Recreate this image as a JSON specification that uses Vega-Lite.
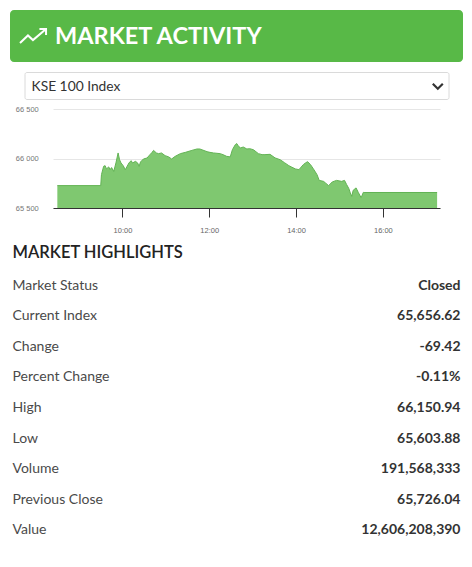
{
  "$schema": "https://vega.github.io/schema/vega-lite/v6.json",
  "background": "white",
  "padding": {"left": 10, "top": 10, "right": 9, "bottom": 11},
  "spacing": 10,
  "center": true,
  "bounds": "flush",
  "config": {"view": {"stroke": null}, "font": "Lato"},
  "vconcat": [
    {
      "width": 453,
      "height": 52,
      "view": {"fill": "#58b947", "stroke": null, "cornerRadius": 4},
      "layer": [
        {
          "data": {"values": [{"label": "MARKET ACTIVITY"}]},
          "mark": {"type": "text", "x": 0, "dx": 45, "dy": 8.3, "align": "left", "baseline": "alphabetic", "font": "Lato", "fontWeight": "bold", "fontSize": 23.5, "color": "white"},
          "encoding": {"text": {"field": "label"}}
        },
        {
          "data": {"values": [{"icon": "trending-up"}]},
          "mark": {"type": "point", "x": 0, "shape": "M0.74,0.52L1.33,-0.04L1.7,0.3L2.67,-0.52M2.18,-0.52L2.67,-0.52L2.67,-0.07", "size": 729, "filled": false, "stroke": "white", "strokeWidth": 2, "opacity": 1},
          "encoding": {}
        }
      ]
    },
    {
      "width": 424,
      "height": 27,
      "view": {"stroke": "#dadada", "strokeWidth": 1, "cornerRadius": 2},
      "layer": [
        {
          "data": {"values": [{"label": "KSE 100 Index"}]},
          "mark": {"type": "text", "x": 0, "dx": 7, "dy": 1, "align": "left", "baseline": "middle", "fontSize": 13.8, "color": "#333333"},
          "encoding": {"text": {"field": "label"}}
        },
        {
          "data": {"values": [{"icon": "chevron"}]},
          "mark": {"type": "point", "x": "width", "shape": "M-3.14,-0.34L-2.14,0.66L-1.14,-0.34", "size": 100, "filled": false, "stroke": "#333333", "strokeWidth": 2.2, "opacity": 1},
          "encoding": {}
        }
      ]
    },
    {
      "width": 407,
      "height": 99,
      "data": {
        "values": [
          {"time": "2024-01-16T08:30:00", "index": 65726.04},
          {"time": "2024-01-16T09:30:00", "index": 65726.04},
          {"time": "2024-01-16T09:31:00", "index": 65837},
          {"time": "2024-01-16T09:34:00", "index": 65921},
          {"time": "2024-01-16T09:36:00", "index": 65928},
          {"time": "2024-01-16T09:38:00", "index": 65895},
          {"time": "2024-01-16T09:41:00", "index": 65915},
          {"time": "2024-01-16T09:43:00", "index": 65888},
          {"time": "2024-01-16T09:45:00", "index": 65908},
          {"time": "2024-01-16T09:48:00", "index": 65870},
          {"time": "2024-01-16T09:51:00", "index": 65955},
          {"time": "2024-01-16T09:54:00", "index": 66056},
          {"time": "2024-01-16T09:56:00", "index": 65988},
          {"time": "2024-01-16T09:58:00", "index": 65955},
          {"time": "2024-01-16T10:01:00", "index": 65928},
          {"time": "2024-01-16T10:04:00", "index": 65887},
          {"time": "2024-01-16T10:06:00", "index": 65915},
          {"time": "2024-01-16T10:09:00", "index": 65955},
          {"time": "2024-01-16T10:12:00", "index": 65978},
          {"time": "2024-01-16T10:14:00", "index": 65955},
          {"time": "2024-01-16T10:18:00", "index": 65971},
          {"time": "2024-01-16T10:21:00", "index": 65955},
          {"time": "2024-01-16T10:23:00", "index": 65921},
          {"time": "2024-01-16T10:25:00", "index": 65965},
          {"time": "2024-01-16T10:29:00", "index": 65995},
          {"time": "2024-01-16T10:34:00", "index": 66005},
          {"time": "2024-01-16T10:38:00", "index": 66039},
          {"time": "2024-01-16T10:41:00", "index": 66062},
          {"time": "2024-01-16T10:43:00", "index": 66082},
          {"time": "2024-01-16T10:47:00", "index": 66056},
          {"time": "2024-01-16T10:50:00", "index": 66049},
          {"time": "2024-01-16T10:54:00", "index": 66056},
          {"time": "2024-01-16T10:59:00", "index": 66029},
          {"time": "2024-01-16T11:04:00", "index": 66016},
          {"time": "2024-01-16T11:08:00", "index": 65995},
          {"time": "2024-01-16T11:13:00", "index": 66022},
          {"time": "2024-01-16T11:20:00", "index": 66049},
          {"time": "2024-01-16T11:27:00", "index": 66062},
          {"time": "2024-01-16T11:36:00", "index": 66082},
          {"time": "2024-01-16T11:43:00", "index": 66096},
          {"time": "2024-01-16T11:47:00", "index": 66096},
          {"time": "2024-01-16T11:57:00", "index": 66069},
          {"time": "2024-01-16T12:01:00", "index": 66062},
          {"time": "2024-01-16T12:06:00", "index": 66056},
          {"time": "2024-01-16T12:15:00", "index": 66049},
          {"time": "2024-01-16T12:19:00", "index": 66039},
          {"time": "2024-01-16T12:24:00", "index": 66022},
          {"time": "2024-01-16T12:29:00", "index": 66016},
          {"time": "2024-01-16T12:32:00", "index": 66089},
          {"time": "2024-01-16T12:36:00", "index": 66140},
          {"time": "2024-01-16T12:38:00", "index": 66150.94},
          {"time": "2024-01-16T12:40:00", "index": 66130},
          {"time": "2024-01-16T12:43:00", "index": 66106},
          {"time": "2024-01-16T12:47:00", "index": 66116},
          {"time": "2024-01-16T12:52:00", "index": 66096},
          {"time": "2024-01-16T12:56:00", "index": 66099},
          {"time": "2024-01-16T13:01:00", "index": 66089},
          {"time": "2024-01-16T13:08:00", "index": 66049},
          {"time": "2024-01-16T13:13:00", "index": 66039},
          {"time": "2024-01-16T13:17:00", "index": 66039},
          {"time": "2024-01-16T13:24:00", "index": 66042},
          {"time": "2024-01-16T13:31:00", "index": 66006},
          {"time": "2024-01-16T13:38:00", "index": 65988},
          {"time": "2024-01-16T13:44:00", "index": 65958},
          {"time": "2024-01-16T13:50:00", "index": 65928},
          {"time": "2024-01-16T13:54:00", "index": 65913},
          {"time": "2024-01-16T13:59:00", "index": 65895},
          {"time": "2024-01-16T14:04:00", "index": 65887},
          {"time": "2024-01-16T14:10:00", "index": 65938},
          {"time": "2024-01-16T14:13:00", "index": 65955},
          {"time": "2024-01-16T14:16:00", "index": 65968},
          {"time": "2024-01-16T14:20:00", "index": 65938},
          {"time": "2024-01-16T14:24:00", "index": 65895},
          {"time": "2024-01-16T14:29:00", "index": 65837},
          {"time": "2024-01-16T14:32:00", "index": 65779},
          {"time": "2024-01-16T14:38:00", "index": 65769},
          {"time": "2024-01-16T14:41:00", "index": 65751},
          {"time": "2024-01-16T14:45:00", "index": 65726},
          {"time": "2024-01-16T14:50:00", "index": 65763},
          {"time": "2024-01-16T14:56:00", "index": 65779},
          {"time": "2024-01-16T15:03:00", "index": 65769},
          {"time": "2024-01-16T15:07:00", "index": 65779},
          {"time": "2024-01-16T15:10:00", "index": 65736},
          {"time": "2024-01-16T15:13:00", "index": 65696},
          {"time": "2024-01-16T15:15:00", "index": 65652},
          {"time": "2024-01-16T15:17:00", "index": 65618},
          {"time": "2024-01-16T15:19:00", "index": 65679},
          {"time": "2024-01-16T15:23:00", "index": 65703},
          {"time": "2024-01-16T15:26:00", "index": 65658},
          {"time": "2024-01-16T15:30:00", "index": 65603.88},
          {"time": "2024-01-16T15:33:00", "index": 65658},
          {"time": "2024-01-16T15:34:00", "index": 65656.62},
          {"time": "2024-01-16T17:15:00", "index": 65656.62}
        ]
      },
      "mark": {"type": "area", "color": "#7fc870", "opacity": 1, "line": {"color": "#62b354", "strokeWidth": 1}},
      "encoding": {
        "x": {
          "field": "time",
          "type": "temporal",
          "scale": {
            "domain": [
              {"year": 2024, "month": 1, "date": 16, "hours": 8, "minutes": 24},
              {"year": 2024, "month": 1, "date": 16, "hours": 17, "minutes": 19}
            ],
            "range": [20, 407],
            "nice": false
          },
          "axis": {
            "title": null,
            "grid": false,
            "zindex": 1,
            "values": [
              {"year": 2024, "month": 1, "date": 16, "hours": 10},
              {"year": 2024, "month": 1, "date": 16, "hours": 12},
              {"year": 2024, "month": 1, "date": 16, "hours": 14},
              {"year": 2024, "month": 1, "date": 16, "hours": 16}
            ],
            "format": "%H:%M",
            "domainColor": "#333333",
            "tickColor": "#333333",
            "tickSize": 9,
            "labelPadding": 9,
            "labelFont": "Liberation Sans",
            "labelFontSize": 7.5,
            "labelColor": "#666666"
          }
        },
        "y": {
          "field": "index",
          "type": "quantitative",
          "scale": {"domain": [65500, 66500], "zero": false, "nice": false},
          "axis": {
            "title": null,
            "values": [65500, 66000, 66500],
            "labelExpr": "replace(format(datum.value, ','), ',', ' ')",
            "offset": -20,
            "domain": false,
            "ticks": false,
            "tickSize": 0,
            "labelPadding": 14.7,
            "gridColor": "#e6e6e6",
            "labelFont": "Liberation Sans",
            "labelFontSize": 7.5,
            "labelColor": "#777777"
          }
        },
        "y2": {"datum": 65500}
      }
    },
    {
      "width": 448,
      "height": 40,
      "data": {"values": [{"heading": "MARKET HIGHLIGHTS"}]},
      "mark": {"type": "text", "x": 0, "y": "height", "align": "left", "baseline": "alphabetic", "fontSize": 16.5, "fontWeight": 600, "color": "#222222"},
      "encoding": {"text": {"field": "heading"}}
    },
    {
      "width": 448,
      "height": 288,
      "data": {
        "values": [
          {"label": "Market Status", "value": "Closed"},
          {"label": "Current Index", "value": "65,656.62"},
          {"label": "Change", "value": "-69.42"},
          {"label": "Percent Change", "value": "-0.11%"},
          {"label": "High", "value": "66,150.94"},
          {"label": "Low", "value": "65,603.88"},
          {"label": "Volume", "value": "191,568,333"},
          {"label": "Previous Close", "value": "65,726.04"},
          {"label": "Value", "value": "12,606,208,390"}
        ]
      },
      "encoding": {
        "y": {"field": "label", "type": "nominal", "sort": null, "scale": {"type": "point", "padding": 0.7213}, "axis": null}
      },
      "layer": [
        {
          "mark": {"type": "text", "x": 0, "align": "left", "baseline": "alphabetic", "fontSize": 14, "color": "#4a4a4a"},
          "encoding": {"text": {"field": "label"}}
        },
        {
          "mark": {"type": "text", "x": "width", "align": "right", "baseline": "alphabetic", "fontSize": 14, "fontWeight": "bold", "color": "#333333"},
          "encoding": {"text": {"field": "value"}}
        }
      ]
    }
  ]
}
